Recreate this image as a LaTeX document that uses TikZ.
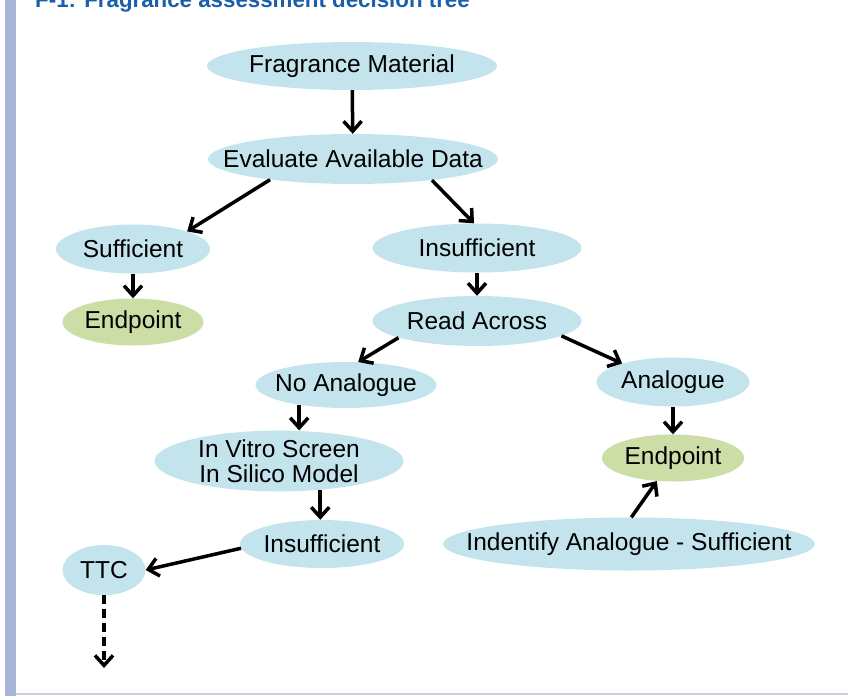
\documentclass[tikz,border=0pt]{standalone}
\usepackage{fontspec}
\setmainfont{Liberation Sans}
\usetikzlibrary{arrows.meta,shapes.geometric}
\definecolor{boxblue}{RGB}{196,228,237}
\definecolor{boxgreen}{RGB}{205,221,166}
\definecolor{titleblue}{RGB}{27,95,170}
\definecolor{barblue}{RGB}{167,181,217}
\definecolor{lineblue}{RGB}{200,208,228}
\newcommand{\fitin}[1]{\makebox[0pt]{#1}}
\begin{document}
\begin{tikzpicture}[x=1pt,y=-1pt,
  box/.style={ellipse, fill=boxblue, inner sep=0pt, font=\fontsize{24.5}{25}\selectfont},
  endbox/.style={box, fill=boxgreen},
  arr/.style={-{Straight Barb[length=10pt,width=18pt]}, line width=3.5pt}]
\useasboundingbox (0,0) rectangle (848,696);
\clip (0,0) rectangle (848,696);
\fill[barblue] (5,0) rectangle (16,696);
\fill[lineblue] (16,692.5) rectangle (848,695);
\node[anchor=base west, inner sep=0pt, text=titleblue, font=\bfseries\fontsize{22.3}{24}\selectfont] (title) at (35,7) {F-1: Fragrance assessment decision tree};
\node[box, minimum width=290pt, minimum height=48pt] (frag) at (352,66) {\fitin{Fragrance Material}};
\node[box, minimum width=290pt, minimum height=50pt] (eval) at (353,159) {\fitin{Evaluate Available Data}};
\node[box, minimum width=154pt, minimum height=49pt] (suff) at (133,249) {\fitin{Sufficient}};
\node[box, minimum width=209pt, minimum height=49pt] (insuff) at (477,248) {\fitin{Insufficient}};
\node[endbox, minimum width=141pt, minimum height=47pt] (endleft) at (133,322) {\fitin{Endpoint}};
\node[box, minimum width=209pt, minimum height=50pt] (read) at (477,321) {\fitin{Read Across}};
\node[box, minimum width=181pt, minimum height=46pt] (noana) at (346,385) {\fitin{No Analogue}};
\node[box, minimum width=153pt, minimum height=49pt] (ana) at (673,382) {\fitin{Analogue}};
\node[box, minimum width=249pt, minimum height=58pt, align=center] (screen) at (279,461) {In Vitro Screen\\In Silico Model};
\node[endbox, minimum width=142pt, minimum height=47pt] (endright) at (673,458) {\fitin{Endpoint}};
\node[box, minimum width=164pt, minimum height=48pt] (insufflow) at (322,544) {\fitin{Insufficient}};
\node[box, minimum width=372pt, minimum height=53pt] (ident) at (629,544) {\fitin{Indentify Analogue - Sufficient}};
\node[box, minimum width=83pt, minimum height=50pt] (ttc) at (104,570) {\fitin{TTC}};
\coordinate (ttcout) at (104,668);
\draw[arr] (frag) -- (eval);
\draw[arr] (eval.194) -- (suff.18);
\draw[arr] (eval.345) -- (insuff.97);
\draw[arr] (suff) -- (endleft);
\draw[arr] (insuff) -- (read);
\draw[arr] (read.192) -- (noana.62);
\draw[arr] (read.350) -- (ana.160);
\draw[arr] (noana.203) -- (noana.203 |- screen.north);
\draw[arr] (ana) -- (endright);
\draw[arr] (screen.325) -- (screen.325 |- insufflow.north);
\draw[arr] (ident.85) -- (endright.235);
\draw[arr] (insufflow.183) -- (ttc.east);
\draw[arr, dash pattern=on 9pt off 5pt] (ttc) -- (ttcout);
\end{tikzpicture}
\end{document}
